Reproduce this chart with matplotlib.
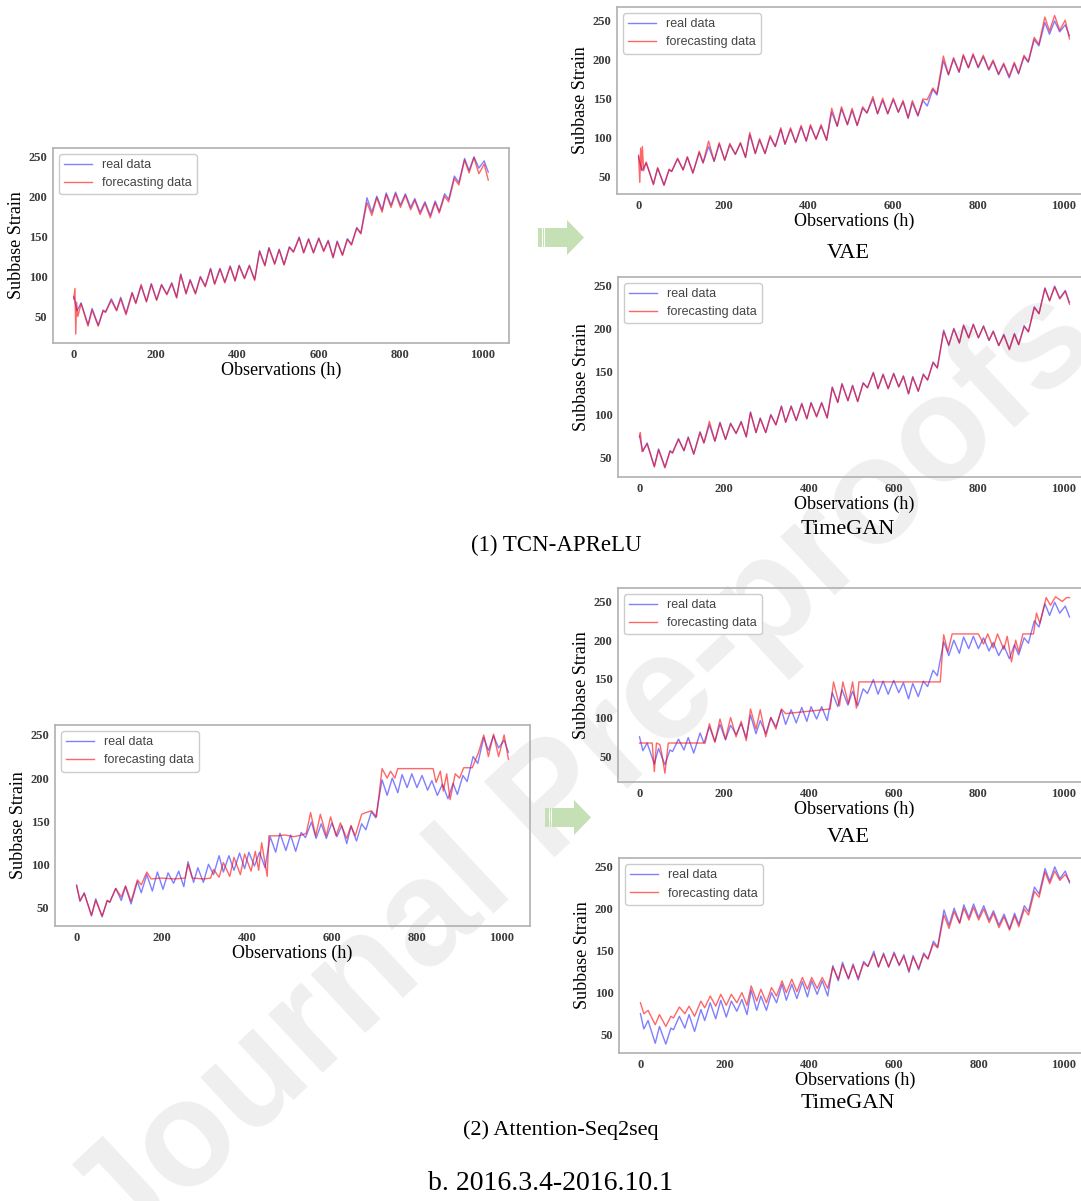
import matplotlib
matplotlib.use("Agg")
import matplotlib.pyplot as plt
from matplotlib.patches import Polygon, Rectangle

# measured subbase strain, sampled at the daily peaks / troughs (hours)
hours = [0, 8, 18, 35, 45, 60, 72, 78, 92, 105, 115, 128, 143, 152, 165, 178,
         190, 203, 215, 228, 240, 252, 262, 275, 285, 298, 310, 322, 335, 345, 358, 370,
         383, 395, 405, 418, 430, 443, 455, 468, 478, 492, 503, 515, 528, 538, 552, 563,
         575, 587, 600, 612, 623, 635, 645, 658, 670, 680, 693, 703, 718, 730, 742, 755,
         765, 777, 788, 800, 812, 825, 835, 848, 860, 873, 885, 895, 908, 918, 932, 943,
         957, 968, 980, 992, 1005, 1015]
real = [75, 57, 67, 40, 60, 39, 58, 56, 72, 58, 74, 54, 80, 67, 88, 69,
        91, 71, 90, 78, 92, 74, 103, 79, 96, 79, 100, 88, 110, 91, 110, 93,
        113, 95, 114, 98, 114, 96, 132, 114, 136, 116, 134, 115, 137, 131, 149, 130,
        147, 130, 148, 132, 145, 124, 144, 127, 147, 140, 161, 154, 198, 180, 200, 183,
        204, 189, 205, 189, 203, 186, 197, 180, 193, 176, 194, 181, 203, 196, 225, 217,
        247, 232, 249, 235, 244, 230]

# (1) TCN-APReLU
tcn_hours = [0, 3, 5, 7, 10] + hours[2:]
tcn_pred = [72, 85, 28, 68, 50,
            66, 38, 58, 38, 57, 55, 70, 57, 72, 52, 79, 66, 90, 68, 90, 70,
            89, 77, 91, 73, 102, 78, 95, 78, 99, 87, 109, 90, 109, 92, 112, 94,
            113, 97, 113, 95, 131, 113, 135, 115, 133, 114, 136, 130, 148, 129, 146, 129,
            147, 131, 144, 123, 143, 126, 146, 139, 160, 153, 192, 176, 198, 180, 202, 186,
            203, 186, 201, 183, 195, 177, 191, 173, 192, 179, 200, 193, 222, 214, 245, 229,
            248, 228, 240, 220]

vae1_hours = [0, 3, 5, 7, 9, 12] + hours[2:]
vae1_pred = [77, 42, 86, 58, 88, 57,
             68, 39, 61, 38, 59, 56, 73, 58, 75, 54, 82, 67, 95, 69, 93, 70,
             92, 78, 93, 74, 106, 79, 98, 79, 102, 88, 112, 91, 112, 93, 115, 95,
             116, 97, 116, 96, 137, 114, 139, 116, 137, 115, 139, 131, 152, 130, 150, 130,
             150, 132, 147, 125, 147, 128, 149, 148, 163, 156, 204, 180, 202, 184, 206, 189,
             207, 190, 205, 187, 199, 181, 195, 178, 196, 182, 205, 197, 228, 219, 254, 236,
             256, 237, 250, 226]

gan1_hours = [0, 2, 6] + hours[2:]
gan1_pred = [74, 79, 57,
             66, 39, 59, 38, 57, 55, 71, 58, 73, 54, 79, 67, 92, 69, 90, 71,
             89, 78, 91, 74, 102, 79, 95, 79, 99, 88, 109, 91, 109, 93, 112, 95,
             113, 97, 113, 96, 131, 114, 135, 116, 133, 115, 136, 131, 148, 130, 146, 130,
             147, 132, 144, 124, 143, 127, 146, 140, 160, 154, 196, 181, 199, 183, 203, 189,
             204, 189, 202, 186, 196, 180, 192, 175, 193, 181, 202, 196, 224, 217, 246, 232,
             248, 234, 243, 228]

# (2) Attention-Seq2seq
seq_hours = [0, 8, 18, 35, 45, 60, 72, 78, 92, 105, 115, 128, 143, 152, 165, 175,
             200, 230, 255, 262, 272, 300, 315, 322, 335, 345, 360, 370, 385, 395, 410, 420,
             428, 435, 448, 452, 470, 490, 510, 530, 540, 550, 562, 573, 587, 597, 610, 620,
             635, 645, 655, 670, 680, 693, 705, 718, 730, 738, 748, 755, 780, 810, 838, 845,
             855, 862, 870, 878, 890, 900, 910, 930, 945, 957, 968, 980, 992, 1005, 1015]
seq_pred = [76, 58, 66, 41, 58, 40, 58, 56, 72, 62, 75, 57, 82, 76, 91, 83,
            84, 83, 84, 100, 84, 83, 84, 94, 85, 102, 86, 108, 88, 112, 92, 115,
            93, 125, 86, 133, 133, 134, 132, 134, 136, 160, 133, 158, 133, 155, 133, 148,
            130, 145, 133, 158, 160, 162, 155, 211, 200, 208, 200, 211, 211, 211, 211, 195,
            208, 185, 205, 175, 205, 200, 212, 212, 230, 250, 225, 251, 225, 250, 222]

vae2_hours = [0, 30, 35, 40, 48, 52, 60, 68, 155, 165, 178, 190, 203, 215, 228, 240,
              252, 262, 275, 285, 298, 310, 322, 335, 345, 450, 458, 472, 480, 493, 503, 512,
              518, 523, 710, 718, 728, 738, 800, 812, 822, 835, 845, 860, 868, 878, 888, 895,
              905, 930, 937, 945, 960, 970, 982, 998, 1008, 1015]
vae2_pred = [67, 67, 30, 67, 65, 55, 28, 67, 67, 92, 68, 98, 72, 100, 75, 95,
             70, 111, 85, 110, 75, 100, 85, 111, 105, 111, 146, 115, 146, 118, 146, 112,
             146, 146, 146, 207, 185, 208, 208, 195, 208, 190, 208, 188, 205, 172, 200, 185,
             208, 208, 235, 222, 255, 245, 256, 250, 255, 255]

gan2_hours = hours
gan2_pred = [88, 75, 79, 62, 74, 60, 72, 70, 83, 75, 84, 72, 90, 82, 96, 84,
             98, 85, 98, 88, 100, 85, 108, 90, 104, 88, 106, 96, 114, 100, 116, 101,
             118, 104, 118, 105, 118, 105, 130, 116, 133, 117, 132, 117, 135, 131, 146, 131,
             145, 131, 146, 133, 143, 126, 142, 129, 145, 140, 158, 153, 192, 176, 196, 182,
             200, 186, 201, 186, 199, 183, 194, 177, 190, 174, 191, 178, 199, 192, 220, 213,
             243, 229, 244, 233, 240, 232]

W, H = 1081, 1201
fig = plt.figure(figsize=(W / 100, H / 100), dpi=100)


def px_box(l, t, r, b):
    return [l / W, 1 - b / H, (r - l) / W, (b - t) / H]


serif = "Liberation Serif"

# pixel box, forecast series, model name and where the name sits
panels = [
    ((53, 148, 509, 343), tcn_hours, tcn_pred, None, None),
    ((617, 7, 1091, 194), vae1_hours, vae1_pred, "VAE", 253),
    ((618, 277, 1091, 477), gan1_hours, gan1_pred, "TimeGAN", 530),
    ((55, 725, 530, 926), seq_hours, seq_pred, None, None),
    ((618, 588, 1091, 782), vae2_hours, vae2_pred, "VAE", 837),
    ((619, 858, 1091, 1053), gan2_hours, gan2_pred, "TimeGAN", 1104),
]

for box, fh, fv, name, name_y in panels:
    ax = fig.add_axes(px_box(*box))
    ax.set_facecolor("none")
    ax.plot(hours, real, color="blue", alpha=0.5, lw=1.0,
            solid_joinstyle="round", label="real data")
    ax.plot(fh, fv, color="red", alpha=0.6, lw=1.0,
            solid_joinstyle="round", label="forecasting data")
    ax.set_xticks([0, 200, 400, 600, 800, 1000])
    ax.set_yticks([50, 100, 150, 200, 250])
    ax.tick_params(length=0, labelsize=9, labelcolor="#3a3a3a", pad=4)
    for lab in ax.get_xticklabels() + ax.get_yticklabels():
        lab.set_fontfamily(serif)
        lab.set_fontweight("bold")
    for sp in ax.spines.values():
        sp.set_color("#b0b0b0")
        sp.set_linewidth(1.2)
    ax.set_xlabel("Observations (h)", fontsize=13, family=serif, labelpad=1)
    ax.set_ylabel("Subbase Strain", fontsize=13, family=serif, labelpad=3)
    ax.legend(loc="upper left", handlelength=2.2,
              prop={"family": "Liberation Sans", "size": 9},
              labelcolor="#444444", edgecolor="#cccccc", framealpha=1)
    if name:
        fig.text(848 / W, 1 - name_y / H, name,
                 ha="center", va="center", fontsize=16, family=serif)

# group captions
fig.text(556 / W, 1 - 545 / H, "(1) TCN-APReLU", ha="center", va="center",
         fontsize=16.5, family=serif)
fig.text(561 / W, 1 - 1130 / H, "(2) Attention-Seq2seq", ha="center", va="center",
         fontsize=16, family=serif)
fig.text(550 / W, 1 - 1184 / H, "b. 2016.3.4-2016.10.1", ha="center", va="center",
         fontsize=20, family=serif)

# green arrows between the single-model and augmented panels
green = "#c5e0b4"
for dx, dy in [(0, 0), (7, 580)]:
    def p(x, y):
        return ((x + dx) / W, 1 - (y + dy) / H)
    for x0, x1 in [(538, 541.5), (542.5, 544)]:
        a = p(x0, 247)
        b = p(x1, 228)
        fig.patches.append(Rectangle(a, b[0] - a[0], b[1] - a[1], color=green,
                                     transform=fig.transFigure, lw=0))
    arrow = [p(545, 228), p(567, 228), p(567, 220), p(584, 237.5),
             p(567, 255), p(567, 247), p(545, 247)]
    fig.patches.append(Polygon(arrow, closed=True, color=green,
                               transform=fig.transFigure, lw=0))

# journal watermark behind everything
fig.text(585 / W, 1 - 775 / H, "Journal Pre-proofs", rotation=43,
         ha="center", va="center", fontsize=108, fontweight="bold", color="#efefef",
         family="Liberation Sans", zorder=-5, rotation_mode="anchor")

fig.savefig("out.png", dpi=100)
